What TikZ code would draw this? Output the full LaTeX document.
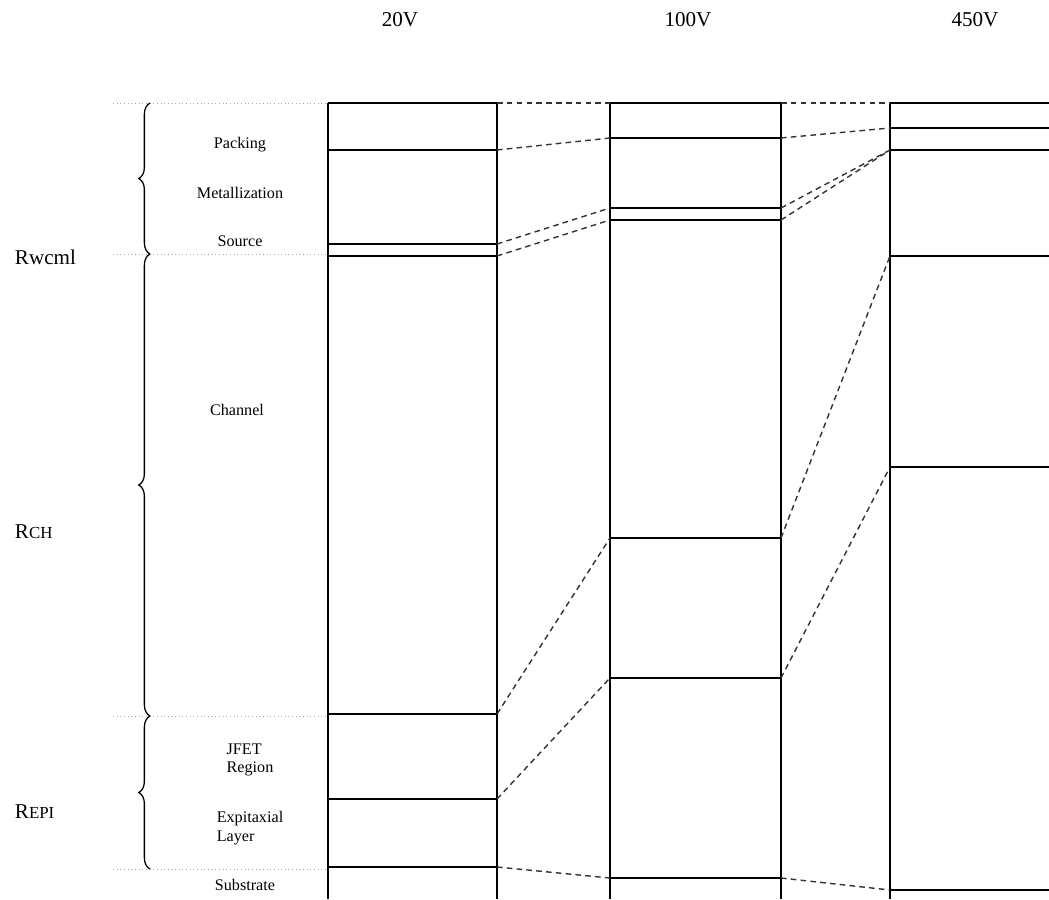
\documentclass[tikz,border=0pt]{standalone}
\usepackage{fontspec}
\setmainfont{Liberation Serif}
\usetikzlibrary{decorations.pathreplacing}
\newcommand{\lowcap}[1]{{\fontsize{12}{13}\selectfont #1}}

\begin{document}
\begin{tikzpicture}[x=0.025cm, y=-0.025cm,
  layer/.style={line width=1.2pt},
  link/.style={line width=1pt, black!80, dash pattern=on 4pt off 3pt},
  guide/.style={gray!70, dotted, line width=0.6pt},
  grp/.style={decorate, decoration={brace, amplitude=8pt}, line width=0.9pt},
  note/.style={font=\fontsize{11.5}{13}\selectfont, align=left},
  res/.style={font=\fontsize{15}{17}\selectfont, anchor=west},
  volt/.style={font=\fontsize{15}{16}\selectfont}
]
\useasboundingbox (0,0) rectangle (1049,899);

% the three cross sections
\draw[layer] (328,103) -- (328,899) (497,103) -- (497,899);
\draw[layer] (610,103) -- (610,899) (781,103) -- (781,899);
\draw[layer] (890,103) -- (890,899);
\foreach \y [count=\i] in {103,150,244,256,714,799,867} {
  \coordinate (a\i) at (497,\y);
  \draw[layer] (328,\y) -- (a\i);
}
\foreach \y [count=\i] in {103,138,208,220,538,678,878} {
  \coordinate (bl\i) at (610,\y);
  \coordinate (br\i) at (781,\y);
  \draw[layer] (bl\i) -- (br\i);
}
\foreach \y [count=\i] in {103,128,150,256,467,890} {
  \coordinate (c\i) at (890,\y);
  \draw[layer] (c\i) -- (1049,\y);
}

% how the layers shift
\foreach \i in {1,...,7} \draw[link] (a\i) -- (bl\i);
\foreach \i/\j in {1/1,2/2,3/3,4/3,5/4,6/5,7/6} \draw[link] (br\i) -- (c\j);

% groups on the left
\foreach \y in {103,254,716,869} \draw[guide] (113,\y) -- (328,\y);
\draw[grp] (150,254) -- (150,103);
\draw[grp] (150,716) -- (150,254);
\draw[grp] (150,869) -- (150,716);

\node[note] (packing) at (240,145) {Packing};
\node[note] (metal) at (240,193) {Metallization};
\node[note] (source) at (240,241) {Source};
\node[note] (channel) at (237,410) {Channel};
\node[note] (jfet) at (250,760) {JFET\\Region};
\node[note] (epi) at (250,828) {Expitaxial\\Layer};
\node[note] (substrate) at (245,885) {Substrate};

\node[res] (rwcml) at (10,257) {Rwcml};
\node[res] (rch) at (10,532) {R\lowcap{CH}};
\node[res] (repi) at (10,812) {R\lowcap{EPI}};

\node[volt] (v20) at (400,20) {20V};
\node[volt] (v100) at (688,20) {100V};
\node[volt] (v450) at (975,20) {450V};
\end{tikzpicture}
\end{document}
